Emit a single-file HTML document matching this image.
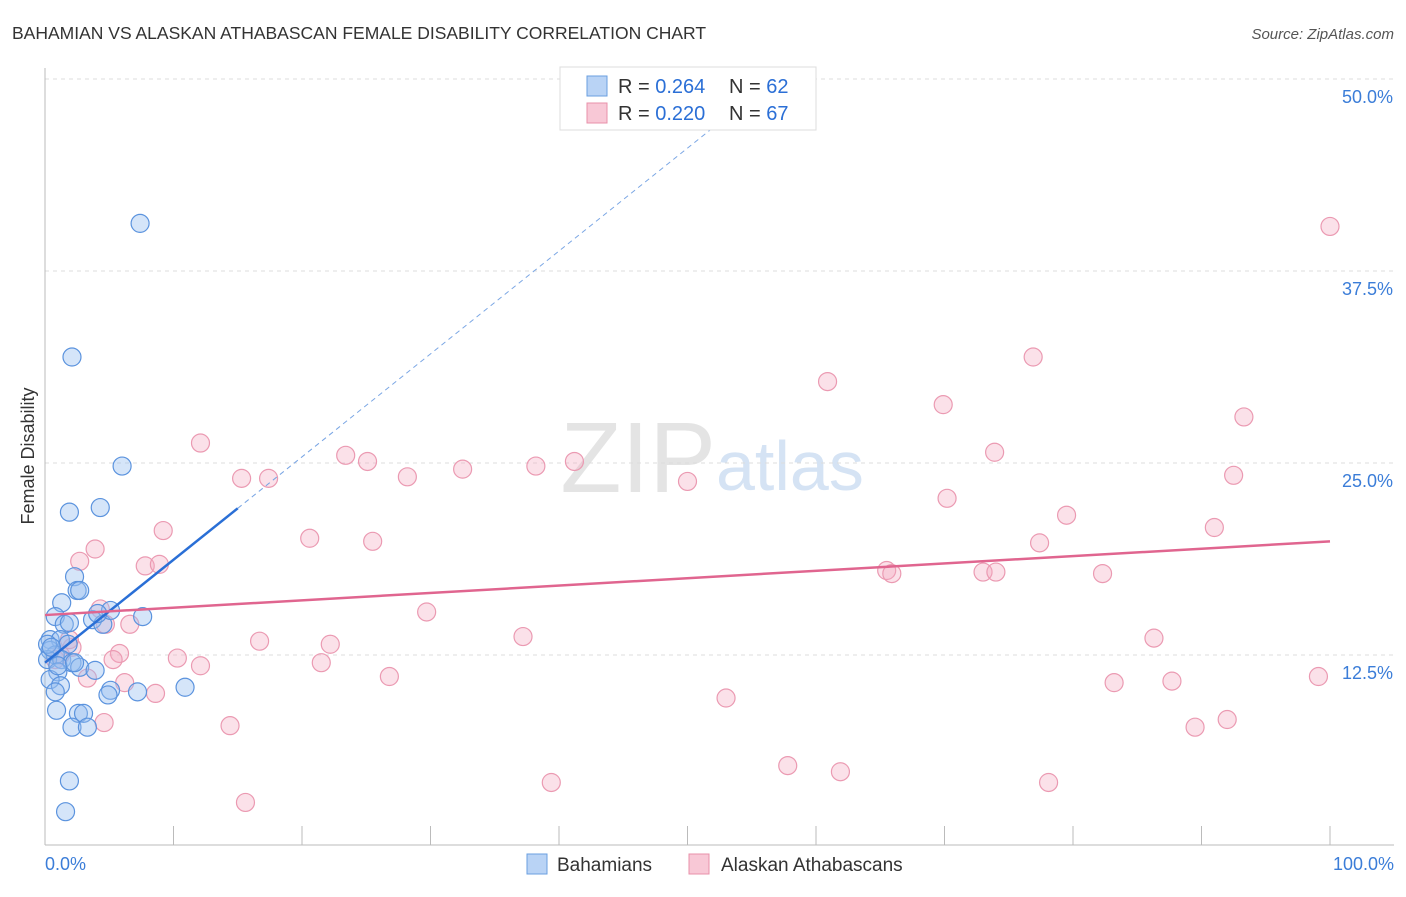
<!DOCTYPE html>
<html><head><meta charset="utf-8"><style>
body{margin:0;background:#fff;font-family:"Liberation Sans",sans-serif}
svg text{font-family:"Liberation Sans",sans-serif}
</style></head><body>
<svg id="c" width="1406" height="892">
<text x="12" y="39" font-size="17.5" fill="#333">BAHAMIAN VS ALASKAN ATHABASCAN FEMALE DISABILITY CORRELATION CHART</text>
<text x="1394" y="39" font-size="15" fill="#555" font-style="italic" text-anchor="end">Source: ZipAtlas.com</text>
<text x="34" y="456" font-size="18" fill="#333" text-anchor="middle" transform="rotate(-90 34 456)">Female Disability</text>
<text x="716" y="492" font-size="100" fill="#e4e4e4" text-anchor="end" font-family="Liberation Serif">ZIP</text>
<text x="716" y="490" font-size="70" fill="#d5e3f4">atlas</text>
<g id="grid"></g><g id="pts"></g><g id="lines"></g>
<g>
<rect x="560" y="67" width="256" height="63" fill="#fff" stroke="#ddd"/>
<rect x="587" y="76" width="20" height="20" fill="#b9d3f5" stroke="#6a9fe0"/>
<text x="618" y="93" font-size="20" fill="#333">R = <tspan fill="#2b6fd6">0.264</tspan></text>
<text x="729" y="93" font-size="20" fill="#333">N = <tspan fill="#2b6fd6">62</tspan></text>
<rect x="587" y="103" width="20" height="20" fill="#f8c8d6" stroke="#e890aa"/>
<text x="618" y="120" font-size="20" fill="#333">R = <tspan fill="#2b6fd6">0.220</tspan></text>
<text x="729" y="120" font-size="20" fill="#333">N = <tspan fill="#2b6fd6">67</tspan></text>
</g>
<g>
<rect x="527" y="854" width="20" height="20" fill="#b9d3f5" stroke="#6a9fe0"/>
<text x="557" y="871" font-size="19" fill="#333">Bahamians</text>
<rect x="689" y="854" width="20" height="20" fill="#f8c8d6" stroke="#e890aa"/>
<text x="721" y="871" font-size="19" fill="#333">Alaskan Athabascans</text>
</g>
</svg>
<script>
const yTicks=[12.5,25,37.5,50];
const yTickLabels=["12.5%","25.0%","37.5%","50.0%"];
const xTickLabels=["0.0%","100.0%"];
const blueX=[7.4,2.1,6.0,1.9,4.3,2.3,2.5,1.3,2.7,0.8,1.5,1.9,3.7,4.5,5.1,4.1,7.6,0.4,1.2,1.8,0.4,0.8,0.2,1.3,2.1,2.7,3.9,1.0,0.4,1.2,0.8,5.1,4.9,7.2,10.9,0.9,2.6,3.0,2.1,3.3,1.9,1.6,0.2,0.5,1.0,2.3];
const blueY=[40.6,31.9,24.8,21.8,22.1,17.6,16.7,15.9,16.7,15.0,14.5,14.6,14.8,14.5,15.4,15.2,15.0,13.5,13.5,13.2,12.8,12.5,12.2,12.2,12.0,11.7,11.5,11.4,10.9,10.5,10.1,10.2,9.9,10.1,10.4,8.9,8.7,8.7,7.8,7.8,4.3,2.3,13.2,13.0,11.8,12.0];
const pinkX=[100,60.9,76.9,69.9,93.3,12.1,73.9,23.4,25.1,15.3,17.4,28.2,32.5,38.2,41.2,50.0,70.2,92.5,79.5,91.0,9.2,20.6,25.5,3.9,2.7,7.8,8.9,77.4,65.5,65.9,73.0,74.0,82.3,4.3,6.6,29.7,37.2,86.3,16.7,22.2,2.1,5.8,5.3,10.3,12.1,21.5,3.3,26.8,83.2,87.7,99.1,6.2,8.6,53.0,92.0,89.5,4.6,14.4,57.8,61.9,39.4,78.1,15.6,1.2,0.8,1.9,4.7];
const pinkY=[40.4,30.3,31.9,28.8,28.0,26.3,25.7,25.5,25.1,24.0,24.0,24.1,24.6,24.8,25.1,23.8,22.7,24.2,21.6,20.8,20.6,20.1,19.9,19.4,18.6,18.3,18.4,19.8,18.0,17.8,17.9,17.9,17.8,15.5,14.5,15.3,13.7,13.6,13.4,13.2,13.0,12.6,12.2,12.3,11.8,12.0,11.0,11.1,10.7,10.8,11.1,10.7,10.0,9.7,8.3,7.8,8.1,7.9,5.3,4.9,4.2,4.2,2.9,12.5,12.2,13.5,14.5];
const blueTrend=[12.0,0.67];const pinkTrend=[15.1,0.048];
const X=v=>45+v*12.85, Y=v=>847-v*15.36;
const NS="http://www.w3.org/2000/svg";
function mk(t,a,p){const e=document.createElementNS(NS,t);for(const k in a)e.setAttribute(k,a[k]);p.appendChild(e);return e;}
const g=document.getElementById('grid');
yTicks.forEach((t,i)=>{
 const l=mk('line',{x1:45,x2:1394,y1:Y(t),y2:Y(t),stroke:'#ddd','stroke-dasharray':'4,4'},g);
 
 
 const tx=mk('text',{x:1393,y:Y(t)+24,'font-size':18,fill:'#3b7dd8','text-anchor':'end'},g);
 tx.textContent=yTickLabels[i];
 
 
});
const ax=mk('line',{x1:45,x2:45,y1:68,y2:845,stroke:'#bbb'},g);


const bx=mk('line',{x1:45,x2:1394,y1:845,y2:845,stroke:'#bbb'},g);


for(let k=0;k<=10;k++){const t=mk('line',{x1:X(k*10),x2:X(k*10),y1:826,y2:845,stroke:'#bbb'},g);
 
 }
[[0,'start',45],[100,'end',1394]].forEach((d,i)=>{const t=mk('text',{x:d[2],y:870,'font-size':18,fill:'#3b7dd8','text-anchor':d[1]},g);t.textContent=xTickLabels[i];
 
 });
const p=document.getElementById('pts');
pinkX.forEach((x,i)=>{const c=mk('circle',{cx:X(x),cy:Y(pinkY[i]),r:9,fill:'rgba(244,170,192,0.35)',stroke:'#eb9ab2','stroke-width':1.2},p);
 
 });
blueX.forEach((x,i)=>{const c=mk('circle',{cx:X(x),cy:Y(blueY[i]),r:9,fill:'rgba(150,190,240,0.4)',stroke:'#5b93de','stroke-width':1.2},p);
 
 });
const L=document.getElementById('lines');
const f=(tr,x)=>tr[0]+tr[1]*x;
const l1=mk('line',{x1:X(0),y1:Y(f(blueTrend,0)),x2:X(15),y2:Y(f(blueTrend,15)),stroke:'#2a6fd6','stroke-width':2.5},L);


const l2=mk('line',{x1:X(15),y1:Y(f(blueTrend,15)),x2:X(53.5),y2:Y(f(blueTrend,53.5)),stroke:'#7aa6e4','stroke-width':1,'stroke-dasharray':'5,4'},L);


const l3=mk('line',{x1:X(0),y1:Y(f(pinkTrend,0)),x2:X(100),y2:Y(f(pinkTrend,100)),stroke:'#e0658f','stroke-width':2.5},L);


</script>
</body></html>
